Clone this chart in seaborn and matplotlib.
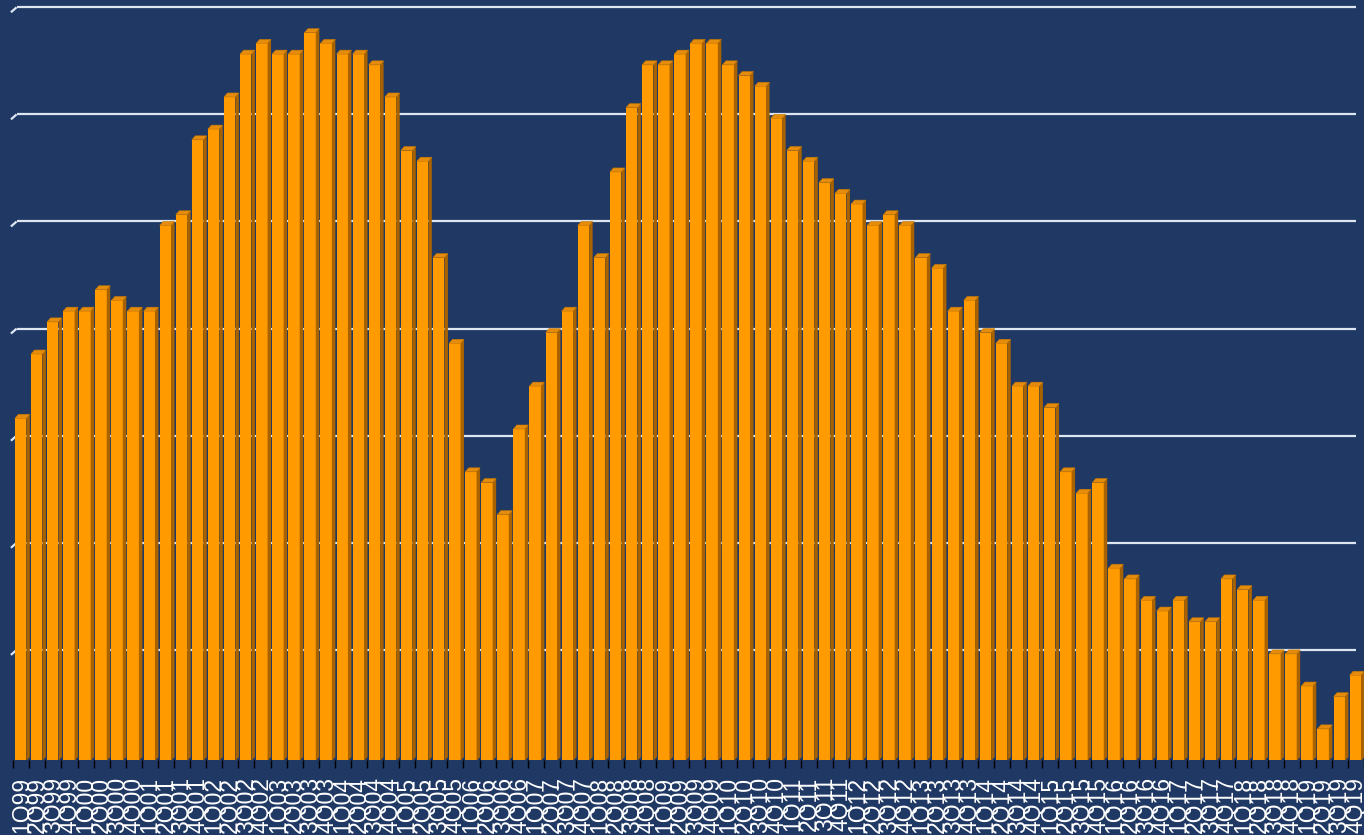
import numpy as np
import matplotlib
matplotlib.use("Agg")
import matplotlib.pyplot as plt
from matplotlib.patches import Polygon
import seaborn as sns

# Quarterly series, 1Q99 .. 4Q19
years = list(range(1999, 2020))
quarters = ["1Q", "2Q", "3Q", "4Q"]
quarter_labels = [f"{q}{y % 100:02d}" for y in years for q in quarters]

values = [
    32, 38, 41, 42, 42, 44, 43, 42,   # 1999-2000
    42, 50, 51, 58, 59, 62, 66, 67,   # 2001-2002
    66, 66, 68, 67, 66, 66, 65, 62,   # 2003-2004
    57, 56, 47, 39, 27, 26, 23, 31,   # 2005-2006
    35, 40, 42, 50, 47, 55, 61, 65,   # 2007-2008
    65, 66, 67, 67, 65, 64, 63, 60,   # 2009-2010
    57, 56, 54, 53, 52, 50, 51, 50,   # 2011-2012
    47, 46, 42, 43, 40, 39, 35, 35,   # 2013-2014
    33, 27, 25, 26, 18, 17, 15, 14,   # 2015-2016
    15, 13, 13, 17, 16, 15, 10, 10,   # 2017-2018
    7, 3, 6, 8,                       # 2019
]
grid_values = [10, 20, 30, 40, 50, 60, 70]

NAVY = "#1F3864"
ORANGE_FRONT = "#FF9A00"
ORANGE_SIDE = "#A86300"
ORANGE_TOP = "#E58C0C"
GRID = "#DCE5F0"

sns.set_theme(style="white")
plt.rcParams["font.family"] = ["Liberation Sans", "DejaVu Sans"]

W, H = 1364, 835
fig = plt.figure(figsize=(W / 100, H / 100), dpi=100, facecolor=NAVY)
axes_bottom_px = 760
ax = fig.add_axes([0, (H - axes_bottom_px) / H, 1, axes_bottom_px / H])
ax.set_facecolor(NAVY)

# pixel scales of the category and value axes
px_per_cat = 16.17
px_per_unit = 10.71
xlim0 = -0.5 - 13.3 / px_per_cat
xlim1 = xlim0 + W / px_per_cat
ylim0 = -3 / px_per_unit
ylim1 = ylim0 + axes_bottom_px / px_per_unit

# depth of the pseudo-3D extrusion, in data units
dx = 3.5 / px_per_cat
dy = 4.0 / px_per_unit

sns.barplot(x=quarter_labels, y=values, color=ORANGE_FRONT, saturation=1,
            width=0.71, ax=ax, zorder=3, linewidth=0)

# push front faces forward (down) and add side + top faces
for patch in list(ax.patches):
    x0 = patch.get_x() - 0.04
    w = patch.get_width()
    h = patch.get_height()
    patch.set_x(x0)
    patch.set_y(-dy)
    top = h - dy
    side = Polygon([(x0 + w, -dy), (x0 + w + dx, 0), (x0 + w + dx, h), (x0 + w, top)],
                   closed=True, facecolor=ORANGE_SIDE, edgecolor="none", zorder=3)
    lid = Polygon([(x0, top), (x0 + w, top), (x0 + w + dx, h), (x0 + dx, h)],
                  closed=True, facecolor=ORANGE_TOP, edgecolor="#C87800",
                  linewidth=0.4, zorder=3)
    ax.add_patch(side)
    ax.add_patch(lid)

# back-wall gridlines with a short side-wall segment at the left
wall_front_x = xlim0 + 11 / px_per_cat
wall_back_x = xlim0 + 16.7 / px_per_cat
wall_dy = 5 / px_per_unit
for g in grid_values:
    ax.plot([wall_front_x, wall_back_x], [g - wall_dy, g], color=GRID, lw=1.6,
            zorder=1, solid_capstyle="butt")
ax.hlines(grid_values, wall_back_x, xlim1, colors=GRID, lw=1.6, zorder=1)

ax.set_xlim(xlim0, xlim1)
ax.set_ylim(ylim0, ylim1)
for s in ax.spines.values():
    s.set_visible(False)

ax.set_yticks([])
ax.set_xlabel("")
ax.set_ylabel("")
ax.set_xticks(np.arange(len(quarter_labels)))
ax.set_xticklabels(quarter_labels, rotation=90, color="white", fontsize=16.5)
ax.set_xticks(np.arange(len(quarter_labels) + 1) - 0.5, minor=True)
ax.tick_params(axis="x", which="major", length=0, pad=12)
ax.tick_params(axis="x", which="minor", length=6, width=1, color="black",
               direction="out", bottom=True)

fig.savefig("out.png", dpi=100, facecolor=NAVY)
